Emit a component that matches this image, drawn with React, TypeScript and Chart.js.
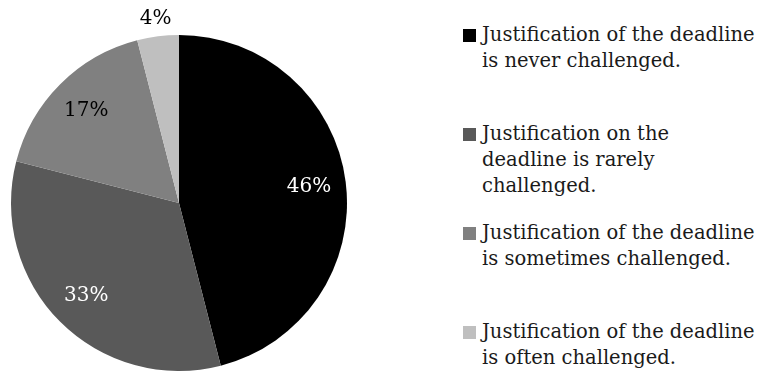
import React, { useEffect, useRef } from "react";
import { Chart, registerables } from "chart.js";

Chart.register(...registerables);

const categories: string[][] = [
  ["Justification of the deadline", "is never challenged."],
  ["Justification on the", "deadline is rarely", "challenged."],
  ["Justification of the deadline", "is sometimes challenged."],
  ["Justification of the deadline", "is often challenged."],
];
const values: number[] = [46, 33, 17, 4];
const percentLabels: string[] = ["46%", "33%", "17%", "4%"];
const sliceColors: string[] = ["#000000", "#595959", "#808080", "#bfbfbf"];
const labelColors: string[] = ["#ffffff", "#ffffff", "#000000", "#000000"];

const FONT = "'DejaVu Serif', serif";

const pctLabelPlugin = {
  id: "pctLabels",
  afterDatasetsDraw(chart: any) {
    const ctx = chart.ctx;
    const meta = chart.getDatasetMeta(0);
    ctx.save();
    ctx.font = `20px ${FONT}`;
    ctx.textAlign = "center";
    ctx.textBaseline = "middle";
    meta.data.forEach((arc: any, i: number) => {
      const p = arc.getProps(["x", "y", "startAngle", "endAngle", "outerRadius"], true);
      const mid = (p.startAngle + p.endAngle) / 2;
      const small = values[i] < 8;
      const d = small ? p.outerRadius + 18 : p.outerRadius * 0.78;
      const x = p.x + Math.cos(mid) * d;
      const y = p.y + Math.sin(mid) * d;
      ctx.fillStyle = labelColors[i];
      ctx.fillText(percentLabels[i], x, y);
    });
    ctx.restore();
  },
};

export default function App() {
  const canvasRef = useRef<HTMLCanvasElement | null>(null);

  useEffect(() => {
    if (!canvasRef.current) return;
    const chart = new Chart(canvasRef.current, {
      type: "pie",
      data: {
        labels: categories.map((c) => c.join(" ")),
        datasets: [
          {
            data: values,
            backgroundColor: sliceColors,
            borderWidth: 0,
            radius: 168,
          } as any,
        ],
      },
      options: {
        animation: false,
        responsive: true,
        maintainAspectRatio: false,
        layout: { padding: { top: 32, bottom: 0, left: 0, right: 0 } },
        plugins: {
          legend: { display: false },
          tooltip: { enabled: false },
        },
      },
      plugins: [pctLabelPlugin],
    });
    return () => chart.destroy();
  }, []);

  return (
    <div
      style={{
        position: "fixed",
        left: 0,
        top: 0,
        width: 759,
        height: 374,
        background: "#ffffff",
        overflow: "hidden",
      }}
    >
      <div style={{ position: "absolute", left: 0, top: 0, width: 358, height: 374 }}>
        <canvas ref={canvasRef} />
      </div>
      <div style={{ position: "absolute", left: 463, top: 22 }}>
        {categories.map((lines, i) => (
          <div key={i} style={{ display: "flex", alignItems: "flex-start", height: 99 }}>
            <span
              style={{
                display: "inline-block",
                width: 13,
                height: 13,
                marginTop: 7,
                marginRight: 6,
                background: sliceColors[i],
                flex: "none",
              }}
            />
            <div
              style={{
                fontFamily: FONT,
                fontSize: 19.5,
                lineHeight: "26px",
                color: "#1a1a1a",
                whiteSpace: "nowrap",
              }}
            >
              {lines.map((l, j) => (
                <div key={j}>{l}</div>
              ))}
            </div>
          </div>
        ))}
      </div>
    </div>
  );
}
